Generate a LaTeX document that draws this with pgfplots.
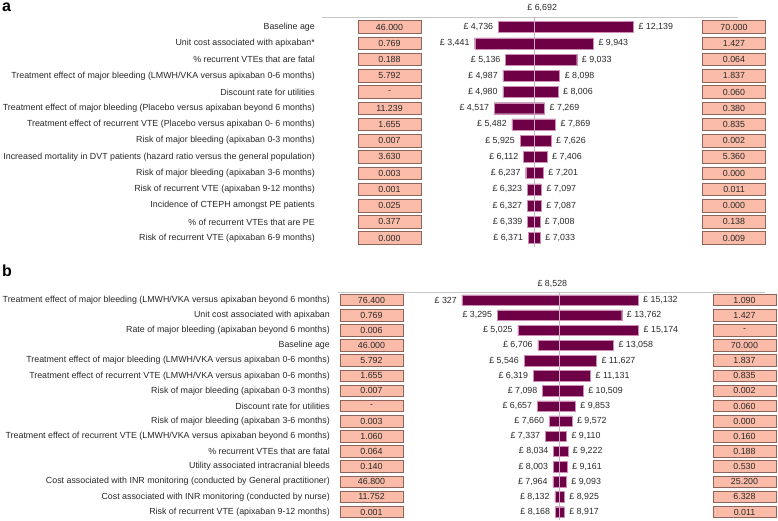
\documentclass[border=0pt]{standalone}
\usepackage{fontspec}
\setmainfont{Liberation Sans}
\usepackage{pgfplots}
\usepackage{pgfplotstable}
\pgfplotsset{compat=1.18}

\definecolor{tbar}{RGB}{110,0,70}
\definecolor{tedge}{RGB}{205,140,180}
\definecolor{boxfill}{RGB}{250,188,168}
\definecolor{boxedge}{RGB}{140,100,90}
\definecolor{cline}{RGB}{200,175,195}
\definecolor{txt}{RGB}{40,40,40}
\newcommand\lab{\fontsize{8.85}{10}\selectfont}

% panel a: low/high result, low/high input
\pgfplotstableread{
idx low high lobox hibox
1 4736 12139 46.000 70.000
2 3441 9943 0.769 1.427
3 5136 9033 0.188 0.064
4 4987 8098 5.792 1.837
5 4980 8006 {-} 0.060
6 4517 7269 11.239 0.380
7 5482 7869 1.655 0.835
8 5925 7626 0.007 0.002
9 6112 7406 3.630 5.360
10 6237 7201 0.003 0.000
11 6323 7097 0.001 0.011
12 6327 7087 0.025 0.000
13 6339 7008 0.377 0.138
14 6371 7033 0.000 0.009
}\tablea

% panel b
\pgfplotstableread{
idx low high lobox hibox
1 327 15132 76.400 1.090
2 3295 13762 0.769 1.427
3 5025 15174 0.006 {-}
4 6706 13058 46.000 70.000
5 5546 11627 5.792 1.837
6 6319 11131 1.655 0.835
7 7098 10509 0.007 0.002
8 6657 9853 {-} 0.060
9 7660 9572 0.003 0.000
10 7337 9110 1.060 0.160
11 8034 9222 0.064 0.188
12 8003 9161 0.140 0.530
13 7964 9093 46.800 25.200
14 8132 8925 11.752 6.328
15 8168 8917 0.001 0.011
}\tableb

\pgfplotsset{
  tornado/.style={
    scale only axis, clip=false, y dir=reverse,
    axis line style={draw=none}, xtick=\empty,
    major tick length=0pt, tick style={draw=none},
    yticklabel style={font=\lab, text=txt, anchor=east, inner sep=0pt},
  },
  lowbar/.style={xbar, bar width=11pt, bar shift=0pt, fill=tbar, draw=tedge, line width=0.4pt,
    nodes near coords={£ \pgfmathprintnumber[fixed,precision=0,1000 sep={,},assume math mode=true]{\pgfplotspointmeta}},
    every node near coord/.append style={anchor=east, font=\lab, text=txt, inner sep=0pt, xshift=-5pt}},
  highbar/.style={xbar, bar width=11pt, bar shift=0pt, fill=tbar, draw=tedge, line width=0.4pt,
    nodes near coords={£ \pgfmathprintnumber[fixed,precision=0,1000 sep={,},assume math mode=true]{\pgfplotspointmeta}},
    every node near coord/.append style={anchor=west, font=\lab, text=txt, inner sep=0pt, xshift=5pt}},
  inbox/.style={draw=none, mark=none, nodes near coords, point meta=explicit symbolic,
    every node near coord/.append style={anchor=center, fill=boxfill, draw=boxedge, line width=0.7pt,
      minimum width=63pt, minimum height=12.5pt, inner sep=0pt, font=\lab, text=txt}},
}

\begin{document}
\begin{tikzpicture}
\useasboundingbox (0,0) rectangle (778pt,-521pt);

\node[anchor=north west, inner sep=0pt, font=\bfseries\fontsize{16}{16}\selectfont] at (2pt,-2.5pt) {a};
\node[anchor=north west, inner sep=0pt, font=\bfseries\fontsize{16}{16}\selectfont] at (2pt,-265pt) {b};

% ---- panel a ----
\begin{axis}[tornado,
    at={(322pt,-17pt)}, anchor=north west,
    width=416pt, height=230pt,
    xmin=-11623, xmax=11184, ymin=0.38, ymax=14.55,
    ytick={1,...,14},
    yticklabel style={xshift=-7pt},
    yticklabels={Baseline age,
      Unit cost associated with apixaban*,
      \%  recurrent VTEs that are fatal,
      Treatment effect of major bleeding (LMWH/VKA versus apixaban 0-6 months),
      Discount rate for utilities,
      Treatment effect of major bleeding (Placebo versus apixaban beyond 6 months),
      Treatment effect of recurrent VTE (Placebo versus apixaban 0- 6 months),
      Risk of major bleeding (apixaban 0-3 months),
      Increased mortality in DVT patients (hazard ratio versus the general population),
      Risk of major bleeding (apixaban 3-6 months),
      Risk of recurrent VTE (apixaban 9-12 months),
      Incidence of CTEPH amongst PE patients,
      \% of recurrent VTEs that are PE,
      Risk of recurrent VTE (apixaban 6-9 months)},
  ]
  \addplot[gray!45, line width=0.6pt] coordinates {(-11623,0.38) (11184,0.38)};
  \addplot[lowbar, point meta=\thisrow{low}] table[x expr=\thisrow{low}-6692, y=idx] {\tablea};
  \addplot[highbar, point meta=\thisrow{high}] table[x expr=\thisrow{high}-6692, y=idx] {\tablea};
  \addplot[cline, line width=0.7pt] coordinates {(0,0.38) (0,14.55)};
  \addplot[inbox] table[x expr=-7922, y=idx, meta=lobox] {\tablea};
  \addplot[inbox] table[x expr=10965, y=idx, meta=hibox] {\tablea};
  \node[font=\lab, text=txt, anchor=south, inner sep=0pt] at (axis cs:450,0.38) [yshift=5pt] {£ 6,692};
\end{axis}

% ---- panel b ----
\begin{axis}[tornado,
    at={(338pt,-292pt)}, anchor=north west,
    width=427pt, height=228pt,
    xmin=-18629, xmax=17283, ymin=0.47, ymax=15.53,
    ytick={1,...,15},
    yticklabel style={xshift=-8pt},
    yticklabels={Treatment effect of major bleeding (LMWH/VKA versus apixaban beyond 6 months),
      Unit cost associated with apixaban,
      Rate of major bleeding (apixaban beyond 6 months),
      Baseline age,
      Treatment effect of major bleeding (LMWH/VKA versus apixaban 0-6 months),
      Treatment effect of recurrent VTE (LMWH/VKA versus apixaban 0-6 months),
      Risk of major bleeding  (apixaban 0-3 months),
      Discount rate for utilities,
      Risk of major bleeding  (apixaban 3-6 months),
      Treatment effect of recurrent VTE (LMWH/VKA versus apixaban beyond 6 months),
      \% recurrent VTEs that are fatal,
      Utility associated intracranial bleeds,
      Cost associated with INR monitoring (conducted by General practitioner),
      Cost associated with INR monitoring (conducted by nurse),
      Risk of recurrent VTE (apixaban 9-12 months)},
  ]
  \addplot[gray!45, line width=0.6pt] coordinates {(-18629,0.47) (17283,0.47)};
  \addplot[lowbar, bar width=10.5pt, point meta=\thisrow{low}] table[x expr=\thisrow{low}-8528, y=idx] {\tableb};
  \addplot[highbar, bar width=10.5pt, point meta=\thisrow{high}] table[x expr=\thisrow{high}-8528, y=idx] {\tableb};
  \addplot[cline, line width=0.7pt] coordinates {(0,0.47) (0,15.53)};
  \addplot[inbox, every node near coord/.append style={minimum height=11.5pt}] table[x expr=-15812, y=idx, meta=lobox] {\tableb};
  \addplot[inbox, every node near coord/.append style={minimum height=11.5pt}] table[x expr=15559, y=idx, meta=hibox] {\tableb};
  \node[font=\lab, text=txt, anchor=south, inner sep=0pt] at (axis cs:-600,0.47) [yshift=4pt] {£ 8,528};
\end{axis}
\end{tikzpicture}
\end{document}
